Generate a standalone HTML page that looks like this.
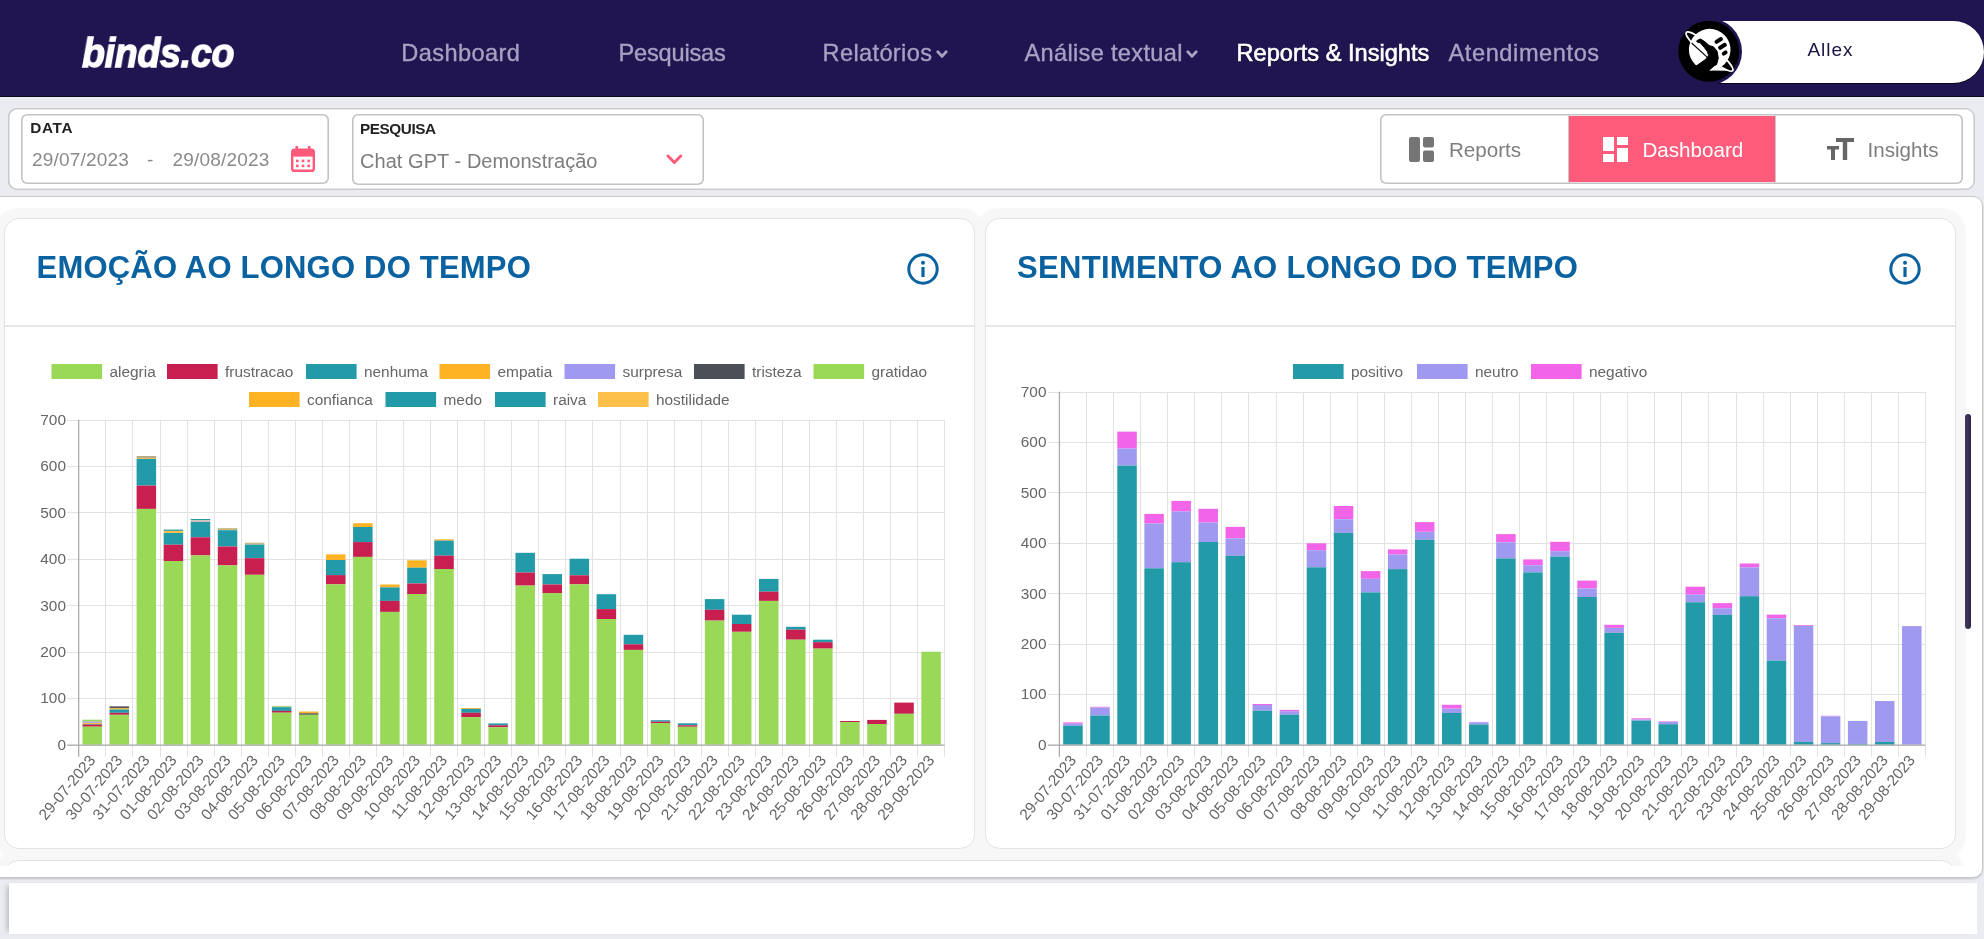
<!DOCTYPE html>
<html lang="pt-br">
<head>
<meta charset="utf-8">
<title>binds.co - Reports &amp; Insights</title>
<style>
*{box-sizing:border-box;margin:0;padding:0}
html,body{width:1984px;height:939px;overflow:hidden}
body{background:#eaecf1;font-family:"Liberation Sans",sans-serif;position:relative;color:#333}
.abs{position:absolute}
/* header */
#hdr{left:0;top:0;width:1984px;height:97px;background:#211551;border-bottom:1.5px solid #0b0820}
#logo{left:82px;top:26.5px;font-size:41px;line-height:52px;font-weight:bold;font-style:italic;color:#fff;transform-origin:0 50%;transform:scaleX(.915);white-space:nowrap;letter-spacing:-0.3px;-webkit-text-stroke:1.4px #fff;will-change:transform}
.nav{top:38px;font-size:23.6px;line-height:30px;color:#a7a1c2;white-space:nowrap}
.nav{-webkit-text-stroke:.35px #a7a1c2}
.nav.on{color:#fff;-webkit-text-stroke:.6px #fff;text-shadow:0 .8px .8px rgba(0,0,0,.8)}
#pill{left:1716px;top:21px;width:268px;height:62px;background:#fff;border-radius:0 31px 31px 0;box-shadow:0 .8px .6px #000}
#uname{left:1807.5px;top:38px;font-size:19px;line-height:24px;color:#1a1446;letter-spacing:.95px}
#av{left:1674.7px;top:17.6px;width:67.2px;height:67.2px;border-radius:50%;background:#211551}
/* filter bar */
#fbar{left:8px;top:108px;width:1967px;height:81.5px;background:#fff;border-radius:9px;box-shadow:inset 0 0 0 1.6px #cbcbce, inset 1px 0 0 0 #bdbdc0}
.box{background:#fff;border-radius:6px;box-shadow:inset 0 0 0 1.6px #c3c3c3}
.lbl{font-weight:bold;font-size:15.3px;line-height:18px;color:#222;white-space:nowrap}
.val{font-size:19px;letter-spacing:.2px;line-height:24px;color:#8a8a8a;white-space:nowrap}
.tab{top:115.5px;height:67px;font-size:20.6px;line-height:26px;color:#7e7e7e;white-space:nowrap}
/* main */
#main{left:-14px;top:195.5px;width:1997px;height:682px;background:#fff;border:1.5px solid #c9c9c9;border-radius:10px;box-shadow:0 1px 2px rgba(0,0,0,.18)}
.card{top:218px;height:631px;background:#fff;border:1px solid #e3e3e3;border-radius:14.5px}
.halo{background:#f7f7f7;border-radius:24px;box-shadow:0 0 2.5px .6px #f7f7f7}
.ttl{top:248px;font-size:31px;line-height:40px;font-weight:bold;color:#0a62a0;white-space:nowrap;letter-spacing:.2px}
.hr{top:325px;height:1.5px;background:#e7e7e7}
#bot{left:9px;top:883px;width:1968px;height:51px;background:#fff;box-shadow:-5px 0 5px -3px rgba(0,0,0,.22)}
svg text.tk{font-family:"Liberation Sans",sans-serif;font-size:15.4px;fill:#666}
svg text.lg{font-family:"Liberation Sans",sans-serif;font-size:15.4px;fill:#666}
</style>
</head>
<body>
<div id="wrap" class="abs" style="left:0;top:0;width:1984px;height:939px;will-change:transform">
<!-- HEADER -->
<div id="hdr" class="abs"></div>
<div id="logo" class="abs">binds.co</div>
<div class="nav abs" style="left:401.3px;letter-spacing:.38px">Dashboard</div>
<div class="nav abs" style="left:618.5px;letter-spacing:-.2px">Pesquisas</div>
<div class="nav abs" style="left:822.5px;letter-spacing:.36px">Relatórios</div>
<svg class="abs" style="left:936.1px;top:49.8px" width="12" height="9" viewBox="0 0 12 9"><path d="M1.8 1.8 L6 6.4 L10.2 1.8" fill="none" stroke="#a7a1c2" stroke-width="2.8" stroke-linecap="round" stroke-linejoin="round"/></svg>
<div class="nav abs" style="left:1024.5px;letter-spacing:.32px">Análise textual</div>
<svg class="abs" style="left:1185.9px;top:49.8px" width="12" height="9" viewBox="0 0 12 9"><path d="M1.8 1.8 L6 6.4 L10.2 1.8" fill="none" stroke="#a7a1c2" stroke-width="2.8" stroke-linecap="round" stroke-linejoin="round"/></svg>
<div class="nav on abs" style="left:1236.5px">Reports &amp; Insights</div>
<div class="nav abs" style="left:1448.5px;letter-spacing:.58px">Atendimentos</div>
<div id="pill" class="abs"></div>
<div id="av" class="abs"></div>
<svg class="abs" style="left:1677.5px;top:20px" width="62" height="62" viewBox="0 0 62 62">
<circle cx="30.8" cy="31.2" r="30.5" fill="#000"/>
<ellipse cx="31.5" cy="31.6" rx="30" ry="5.8" transform="rotate(39.5 31.5 31.6)" fill="none" stroke="#fff" stroke-width="1.8"/>
<circle cx="31.7" cy="29.6" r="20.8" fill="#fff"/>
<path d="M13.6 23 L30.5 38.3" stroke="#000" stroke-width="1.1" fill="none"/>
<path d="M18.9 20.6 L22.4 19 L26.6 21.5 L31.1 25.5 L35.3 26.7 L39 31 L40.3 38.1 L38.6 44.6 L33 49 L27 53.5 L17.5 46.5 L27.2 39.7 L30.6 35.8 L29.5 31.8 L26.2 27.3 L22.2 22.8 L19 22 Z" fill="#000" stroke="#000" stroke-width="1" stroke-linejoin="round"/>
<g fill="#000"><rect x="36.2" y="18.4" width="9" height="4" rx="1.8" transform="rotate(-32 40.7 20.4)"/>
<rect x="39.8" y="24.2" width="9.4" height="4.2" rx="1.9" transform="rotate(-32 44.5 26.3)"/>
<rect x="43.7" y="31" width="6" height="4" rx="1.9" transform="rotate(-32 46.7 33)"/></g>
<path d="M31.5 50.4 L37.2 45.6 L43.5 48.2 L52 50.8 Z" fill="#fff"/>
</svg>
<div id="uname" class="abs">Allex</div>

<!-- FILTER BAR -->
<div id="fbar" class="abs"></div>
<div class="box abs" style="left:21px;top:114px;width:308px;height:70px"></div>
<div class="lbl abs" style="left:30.2px;top:119px;letter-spacing:.7px">DATA</div>
<div class="val abs" style="left:32px;top:148px">29/07/2023</div>
<div class="val abs" style="left:147px;top:148px">-</div>
<div class="val abs" style="left:172.5px;top:148px">29/08/2023</div>
<svg class="abs" style="left:290.5px;top:145.5px" width="24" height="26" viewBox="0 0 24 26">
<rect x="4.5" y="0" width="2.6" height="5" fill="#ff5a7a"/><rect x="16.9" y="0" width="2.6" height="5" fill="#ff5a7a"/>
<rect x="1.2" y="3.6" width="21.6" height="21.2" rx="2.4" fill="none" stroke="#ff5a7a" stroke-width="2.4"/>
<rect x="1.2" y="3.6" width="21.6" height="7" fill="#ff5a7a"/>
<rect x="5" y="13.6" width="2.6" height="2.6" fill="#ff5a7a"/><rect x="10.7" y="13.6" width="2.6" height="2.6" fill="#ff5a7a"/><rect x="16.4" y="13.6" width="2.6" height="2.6" fill="#ff5a7a"/>
<rect x="5" y="18.6" width="2.6" height="2.6" fill="#ff5a7a"/><rect x="10.7" y="18.6" width="2.6" height="2.6" fill="#ff5a7a"/><rect x="16.4" y="18.6" width="2.6" height="2.6" fill="#ff5a7a"/>
</svg>
<div class="box abs" style="left:351.5px;top:114px;width:352.5px;height:70.5px"></div>
<div class="lbl abs" style="left:360px;top:120px;letter-spacing:-.42px">PESQUISA</div>
<div class="val abs" style="left:360px;top:149px;font-size:20px;letter-spacing:.05px;color:#7d7d7d">Chat GPT - Demonstração</div>
<svg class="abs" style="left:666.2px;top:153.9px" width="17" height="11" viewBox="0 0 17 11"><path d="M2 2 L8.35 8.5 L14.7 2" fill="none" stroke="#ff5a7a" stroke-width="2.9" stroke-linecap="round" stroke-linejoin="round"/></svg>

<!-- tabs -->
<div class="box abs" style="left:1380px;top:113.5px;width:583px;height:70.5px"></div>
<div class="abs" style="left:1568.7px;top:115.8px;width:206.3px;height:66.4px;background:#ff5c7c"></div>
<div class="abs" style="left:1567.5px;top:115px;width:1.4px;height:67.5px;background:#c8c8c8"></div>
<div class="abs" style="left:1775px;top:115px;width:1.4px;height:67.5px;background:#c8c8c8"></div>
<svg class="abs" style="left:1408.5px;top:137px" width="25" height="25" viewBox="0 0 25 25"><rect x="0" y="0" width="11" height="25" rx="2" fill="#757575"/><rect x="14" y="0" width="11" height="10.5" rx="2" fill="#757575"/><rect x="14" y="13.5" width="11" height="11.5" rx="2" fill="#757575"/></svg>
<div class="tab abs" style="left:1449px;top:136.8px">Reports</div>
<svg class="abs" style="left:1602.5px;top:137px" width="25" height="25" viewBox="0 0 25 25"><rect x="0" y="0" width="11" height="14" fill="#fff"/><rect x="0" y="17" width="11" height="8" fill="#fff"/><rect x="14" y="0" width="11" height="8" fill="#fff"/><rect x="14" y="11" width="11" height="14" fill="#fff"/></svg>
<div class="tab abs" style="left:1642.5px;top:136.8px;color:#fff">Dashboard</div>
<svg class="abs" style="left:1827px;top:138px" width="27" height="23" viewBox="0 0 27 23"><path d="M9 0 H27 V4 H20.2 V22 H15.8 V4 H9 Z" fill="#666"/><path d="M0 8 H12 V11.6 H8 V22 H4 V11.6 H0 Z" fill="#666"/></svg>
<div class="tab abs" style="left:1867.5px;top:136.8px">Insights</div>

<!-- MAIN -->
<div id="main" class="abs"></div>
<div id="scr" class="abs" style="left:0;top:198px;width:1976px;height:668.4px;overflow:hidden">
<div class="halo abs" style="left:-5.5px;top:10.5px;width:989.5px;height:650px"></div>
<div class="halo abs" style="left:975.5px;top:10.5px;width:989.5px;height:650px"></div>
<div class="halo abs" style="left:-5.5px;top:652.5px;width:1970.5px;height:219px"></div>
<div class="card abs" style="left:4px;top:20px;width:970.5px"></div>
<div class="card abs" style="left:985px;top:20px;width:970.5px"></div>
<div class="card abs" style="left:4px;top:662px;width:1951.5px;height:200px"></div>
</div>
<div class="hr abs" style="left:4.5px;width:969.5px"></div>
<div class="hr abs" style="left:985.5px;width:969.5px"></div>
<div class="ttl abs" style="left:36.5px">EMOÇÃO AO LONGO DO TEMPO</div>
<div class="ttl abs" style="left:1017px;letter-spacing:.3px">SENTIMENTO AO LONGO DO TEMPO</div>
<svg class="abs" style="left:906.3px;top:252.3px" width="34" height="34" viewBox="0 0 34 34"><circle cx="17" cy="17" r="14.2" fill="none" stroke="#0a62a0" stroke-width="3"/><rect x="15.4" y="15" width="3.2" height="10" fill="#0a62a0"/><circle cx="17" cy="10.8" r="2" fill="#0a62a0"/></svg>
<svg class="abs" style="left:1887.6px;top:252.3px" width="34" height="34" viewBox="0 0 34 34"><circle cx="17" cy="17" r="14.2" fill="none" stroke="#0a62a0" stroke-width="3"/><rect x="15.4" y="15" width="3.2" height="10" fill="#0a62a0"/><circle cx="17" cy="10.8" r="2" fill="#0a62a0"/></svg>
<!-- scrollbar thumb -->
<div class="abs" style="left:1965px;top:413.7px;width:6.2px;height:215.3px;border-radius:3.2px;background:linear-gradient(90deg,#443a5e,#3a2e55 50%,#2c214b)"></div>

<!-- charts -->
<svg class="abs" style="left:0;top:0;transform:translateZ(0)" width="1984" height="939" viewBox="0 0 1984 939">
<g id="chartL">
<line x1="67.20" y1="745.50" x2="944.62" y2="745.50" stroke="#e2e2e2" stroke-width="1.15"/>
<text x="66.00" y="749.80" text-anchor="end" class="tk">0</text>
<line x1="67.20" y1="698.50" x2="944.62" y2="698.50" stroke="#e2e2e2" stroke-width="1.15"/>
<text x="66.00" y="703.37" text-anchor="end" class="tk">100</text>
<line x1="67.20" y1="652.50" x2="944.62" y2="652.50" stroke="#e2e2e2" stroke-width="1.15"/>
<text x="66.00" y="656.94" text-anchor="end" class="tk">200</text>
<line x1="67.20" y1="605.50" x2="944.62" y2="605.50" stroke="#e2e2e2" stroke-width="1.15"/>
<text x="66.00" y="610.51" text-anchor="end" class="tk">300</text>
<line x1="67.20" y1="559.50" x2="944.62" y2="559.50" stroke="#e2e2e2" stroke-width="1.15"/>
<text x="66.00" y="564.09" text-anchor="end" class="tk">400</text>
<line x1="67.20" y1="512.50" x2="944.62" y2="512.50" stroke="#e2e2e2" stroke-width="1.15"/>
<text x="66.00" y="517.66" text-anchor="end" class="tk">500</text>
<line x1="67.20" y1="466.50" x2="944.62" y2="466.50" stroke="#e2e2e2" stroke-width="1.15"/>
<text x="66.00" y="471.23" text-anchor="end" class="tk">600</text>
<line x1="67.20" y1="420.50" x2="944.62" y2="420.50" stroke="#e2e2e2" stroke-width="1.15"/>
<text x="66.00" y="424.80" text-anchor="end" class="tk">700</text>
<line x1="78.50" y1="419.70" x2="78.50" y2="756.70" stroke="#e2e2e2" stroke-width="1.05"/>
<line x1="105.50" y1="419.70" x2="105.50" y2="756.70" stroke="#e2e2e2" stroke-width="1.05"/>
<line x1="132.50" y1="419.70" x2="132.50" y2="756.70" stroke="#e2e2e2" stroke-width="1.05"/>
<line x1="160.50" y1="419.70" x2="160.50" y2="756.70" stroke="#e2e2e2" stroke-width="1.05"/>
<line x1="187.50" y1="419.70" x2="187.50" y2="756.70" stroke="#e2e2e2" stroke-width="1.05"/>
<line x1="214.50" y1="419.70" x2="214.50" y2="756.70" stroke="#e2e2e2" stroke-width="1.05"/>
<line x1="241.50" y1="419.70" x2="241.50" y2="756.70" stroke="#e2e2e2" stroke-width="1.05"/>
<line x1="268.50" y1="419.70" x2="268.50" y2="756.70" stroke="#e2e2e2" stroke-width="1.05"/>
<line x1="295.50" y1="419.70" x2="295.50" y2="756.70" stroke="#e2e2e2" stroke-width="1.05"/>
<line x1="322.50" y1="419.70" x2="322.50" y2="756.70" stroke="#e2e2e2" stroke-width="1.05"/>
<line x1="349.50" y1="419.70" x2="349.50" y2="756.70" stroke="#e2e2e2" stroke-width="1.05"/>
<line x1="376.50" y1="419.70" x2="376.50" y2="756.70" stroke="#e2e2e2" stroke-width="1.05"/>
<line x1="403.50" y1="419.70" x2="403.50" y2="756.70" stroke="#e2e2e2" stroke-width="1.05"/>
<line x1="430.50" y1="419.70" x2="430.50" y2="756.70" stroke="#e2e2e2" stroke-width="1.05"/>
<line x1="457.50" y1="419.70" x2="457.50" y2="756.70" stroke="#e2e2e2" stroke-width="1.05"/>
<line x1="484.50" y1="419.70" x2="484.50" y2="756.70" stroke="#e2e2e2" stroke-width="1.05"/>
<line x1="511.50" y1="419.70" x2="511.50" y2="756.70" stroke="#e2e2e2" stroke-width="1.05"/>
<line x1="538.50" y1="419.70" x2="538.50" y2="756.70" stroke="#e2e2e2" stroke-width="1.05"/>
<line x1="565.50" y1="419.70" x2="565.50" y2="756.70" stroke="#e2e2e2" stroke-width="1.05"/>
<line x1="592.50" y1="419.70" x2="592.50" y2="756.70" stroke="#e2e2e2" stroke-width="1.05"/>
<line x1="620.50" y1="419.70" x2="620.50" y2="756.70" stroke="#e2e2e2" stroke-width="1.05"/>
<line x1="647.50" y1="419.70" x2="647.50" y2="756.70" stroke="#e2e2e2" stroke-width="1.05"/>
<line x1="674.50" y1="419.70" x2="674.50" y2="756.70" stroke="#e2e2e2" stroke-width="1.05"/>
<line x1="701.50" y1="419.70" x2="701.50" y2="756.70" stroke="#e2e2e2" stroke-width="1.05"/>
<line x1="728.50" y1="419.70" x2="728.50" y2="756.70" stroke="#e2e2e2" stroke-width="1.05"/>
<line x1="755.50" y1="419.70" x2="755.50" y2="756.70" stroke="#e2e2e2" stroke-width="1.05"/>
<line x1="782.50" y1="419.70" x2="782.50" y2="756.70" stroke="#e2e2e2" stroke-width="1.05"/>
<line x1="809.50" y1="419.70" x2="809.50" y2="756.70" stroke="#e2e2e2" stroke-width="1.05"/>
<line x1="836.50" y1="419.70" x2="836.50" y2="756.70" stroke="#e2e2e2" stroke-width="1.05"/>
<line x1="863.50" y1="419.70" x2="863.50" y2="756.70" stroke="#e2e2e2" stroke-width="1.05"/>
<line x1="890.50" y1="419.70" x2="890.50" y2="756.70" stroke="#e2e2e2" stroke-width="1.05"/>
<line x1="917.50" y1="419.70" x2="917.50" y2="756.70" stroke="#e2e2e2" stroke-width="1.05"/>
<line x1="944.50" y1="419.70" x2="944.50" y2="756.70" stroke="#e2e2e2" stroke-width="1.05"/>
<rect x="82.48" y="719.70" width="19.50" height="1.90" fill="#9ad858"/>
<rect x="82.48" y="721.60" width="19.50" height="1.30" fill="#a099f0"/>
<rect x="82.48" y="722.90" width="19.50" height="1.40" fill="#fdc04a"/>
<rect x="82.48" y="724.30" width="19.50" height="0.60" fill="#4b4f58"/>
<rect x="82.48" y="724.90" width="19.50" height="1.80" fill="#c81e50"/>
<rect x="82.48" y="726.70" width="19.50" height="18.00" fill="#9ad858"/>
<rect x="109.54" y="706.40" width="19.50" height="1.80" fill="#4b4f58"/>
<rect x="109.54" y="708.20" width="19.50" height="1.30" fill="#fdb324"/>
<rect x="109.54" y="709.50" width="19.50" height="3.30" fill="#229aa8"/>
<rect x="109.54" y="712.80" width="19.50" height="2.00" fill="#c81e50"/>
<rect x="109.54" y="714.80" width="19.50" height="29.90" fill="#9ad858"/>
<rect x="136.60" y="456.00" width="19.50" height="2.00" fill="#b9aa8c"/>
<rect x="136.60" y="458.00" width="19.50" height="0.90" fill="#fdc04a"/>
<rect x="136.60" y="458.90" width="19.50" height="26.70" fill="#229aa8"/>
<rect x="136.60" y="485.60" width="19.50" height="23.30" fill="#c81e50"/>
<rect x="136.60" y="508.90" width="19.50" height="235.80" fill="#9ad858"/>
<rect x="163.66" y="529.60" width="19.50" height="1.30" fill="#229aa8"/>
<rect x="163.66" y="530.90" width="19.50" height="2.10" fill="#fdc04a"/>
<rect x="163.66" y="533.00" width="19.50" height="11.70" fill="#229aa8"/>
<rect x="163.66" y="544.70" width="19.50" height="16.30" fill="#c81e50"/>
<rect x="163.66" y="561.00" width="19.50" height="183.70" fill="#9ad858"/>
<rect x="190.72" y="519.00" width="19.50" height="1.20" fill="#229aa8"/>
<rect x="190.72" y="520.20" width="19.50" height="1.70" fill="#d9bab2"/>
<rect x="190.72" y="521.90" width="19.50" height="15.40" fill="#229aa8"/>
<rect x="190.72" y="537.30" width="19.50" height="18.10" fill="#c81e50"/>
<rect x="190.72" y="555.40" width="19.50" height="189.30" fill="#9ad858"/>
<rect x="217.78" y="528.10" width="19.50" height="2.10" fill="#c8ba80"/>
<rect x="217.78" y="530.20" width="19.50" height="16.30" fill="#229aa8"/>
<rect x="217.78" y="546.50" width="19.50" height="18.90" fill="#c81e50"/>
<rect x="217.78" y="565.40" width="19.50" height="179.30" fill="#9ad858"/>
<rect x="244.84" y="542.70" width="19.50" height="1.90" fill="#c8ba80"/>
<rect x="244.84" y="544.60" width="19.50" height="13.60" fill="#229aa8"/>
<rect x="244.84" y="558.20" width="19.50" height="16.60" fill="#c81e50"/>
<rect x="244.84" y="574.80" width="19.50" height="169.90" fill="#9ad858"/>
<rect x="271.90" y="705.90" width="19.50" height="1.30" fill="#b9cf7c"/>
<rect x="271.90" y="707.20" width="19.50" height="3.70" fill="#229aa8"/>
<rect x="271.90" y="710.90" width="19.50" height="1.80" fill="#c81e50"/>
<rect x="271.90" y="712.70" width="19.50" height="32.00" fill="#9ad858"/>
<rect x="298.96" y="711.50" width="19.50" height="1.80" fill="#fdb324"/>
<rect x="298.96" y="713.30" width="19.50" height="1.50" fill="#4b4f58"/>
<rect x="298.96" y="714.80" width="19.50" height="29.90" fill="#9ad858"/>
<rect x="326.02" y="554.40" width="19.50" height="5.60" fill="#fdb324"/>
<rect x="326.02" y="560.00" width="19.50" height="15.10" fill="#229aa8"/>
<rect x="326.02" y="575.10" width="19.50" height="9.20" fill="#c81e50"/>
<rect x="326.02" y="584.30" width="19.50" height="160.40" fill="#9ad858"/>
<rect x="353.08" y="523.20" width="19.50" height="3.80" fill="#fdb324"/>
<rect x="353.08" y="527.00" width="19.50" height="15.10" fill="#229aa8"/>
<rect x="353.08" y="542.10" width="19.50" height="14.80" fill="#c81e50"/>
<rect x="353.08" y="556.90" width="19.50" height="187.80" fill="#9ad858"/>
<rect x="380.14" y="584.50" width="19.50" height="2.90" fill="#fdb324"/>
<rect x="380.14" y="587.40" width="19.50" height="13.50" fill="#229aa8"/>
<rect x="380.14" y="600.90" width="19.50" height="11.00" fill="#c81e50"/>
<rect x="380.14" y="611.90" width="19.50" height="132.80" fill="#9ad858"/>
<rect x="407.20" y="560.30" width="19.50" height="7.40" fill="#fdb324"/>
<rect x="407.20" y="567.70" width="19.50" height="15.80" fill="#229aa8"/>
<rect x="407.20" y="583.50" width="19.50" height="10.50" fill="#c81e50"/>
<rect x="407.20" y="594.00" width="19.50" height="150.70" fill="#9ad858"/>
<rect x="434.26" y="539.30" width="19.50" height="1.30" fill="#fdb324"/>
<rect x="434.26" y="540.60" width="19.50" height="15.10" fill="#229aa8"/>
<rect x="434.26" y="555.70" width="19.50" height="13.30" fill="#c81e50"/>
<rect x="434.26" y="569.00" width="19.50" height="175.70" fill="#9ad858"/>
<rect x="461.32" y="708.00" width="19.50" height="0.90" fill="#fdb324"/>
<rect x="461.32" y="708.90" width="19.50" height="3.90" fill="#229aa8"/>
<rect x="461.32" y="712.80" width="19.50" height="4.30" fill="#c81e50"/>
<rect x="461.32" y="717.10" width="19.50" height="27.60" fill="#9ad858"/>
<rect x="488.38" y="723.40" width="19.50" height="1.90" fill="#229aa8"/>
<rect x="488.38" y="725.30" width="19.50" height="1.90" fill="#c81e50"/>
<rect x="488.38" y="727.20" width="19.50" height="17.50" fill="#9ad858"/>
<rect x="515.44" y="552.80" width="19.50" height="19.70" fill="#229aa8"/>
<rect x="515.44" y="572.50" width="19.50" height="13.10" fill="#c81e50"/>
<rect x="515.44" y="585.60" width="19.50" height="159.10" fill="#9ad858"/>
<rect x="542.50" y="574.10" width="19.50" height="10.40" fill="#229aa8"/>
<rect x="542.50" y="584.50" width="19.50" height="8.50" fill="#c81e50"/>
<rect x="542.50" y="593.00" width="19.50" height="151.70" fill="#9ad858"/>
<rect x="569.56" y="558.70" width="19.50" height="16.60" fill="#229aa8"/>
<rect x="569.56" y="575.30" width="19.50" height="9.00" fill="#c81e50"/>
<rect x="569.56" y="584.30" width="19.50" height="160.40" fill="#9ad858"/>
<rect x="596.62" y="594.20" width="19.50" height="14.90" fill="#229aa8"/>
<rect x="596.62" y="609.10" width="19.50" height="9.90" fill="#c81e50"/>
<rect x="596.62" y="619.00" width="19.50" height="125.70" fill="#9ad858"/>
<rect x="623.68" y="634.80" width="19.50" height="9.50" fill="#229aa8"/>
<rect x="623.68" y="644.30" width="19.50" height="5.60" fill="#c81e50"/>
<rect x="623.68" y="649.90" width="19.50" height="94.80" fill="#9ad858"/>
<rect x="650.74" y="720.20" width="19.50" height="1.50" fill="#229aa8"/>
<rect x="650.74" y="721.70" width="19.50" height="1.30" fill="#c81e50"/>
<rect x="650.74" y="723.00" width="19.50" height="21.70" fill="#9ad858"/>
<rect x="677.80" y="723.30" width="19.50" height="2.00" fill="#229aa8"/>
<rect x="677.80" y="725.30" width="19.50" height="1.50" fill="#c81e50"/>
<rect x="677.80" y="726.80" width="19.50" height="17.90" fill="#9ad858"/>
<rect x="704.86" y="599.10" width="19.50" height="10.70" fill="#229aa8"/>
<rect x="704.86" y="609.80" width="19.50" height="10.80" fill="#c81e50"/>
<rect x="704.86" y="620.60" width="19.50" height="124.10" fill="#9ad858"/>
<rect x="731.92" y="614.70" width="19.50" height="9.30" fill="#229aa8"/>
<rect x="731.92" y="624.00" width="19.50" height="7.80" fill="#c81e50"/>
<rect x="731.92" y="631.80" width="19.50" height="112.90" fill="#9ad858"/>
<rect x="758.98" y="578.90" width="19.50" height="12.80" fill="#229aa8"/>
<rect x="758.98" y="591.70" width="19.50" height="9.20" fill="#c81e50"/>
<rect x="758.98" y="600.90" width="19.50" height="143.80" fill="#9ad858"/>
<rect x="786.04" y="626.80" width="19.50" height="2.90" fill="#229aa8"/>
<rect x="786.04" y="629.70" width="19.50" height="10.00" fill="#c81e50"/>
<rect x="786.04" y="639.70" width="19.50" height="105.00" fill="#9ad858"/>
<rect x="813.10" y="639.70" width="19.50" height="2.50" fill="#229aa8"/>
<rect x="813.10" y="642.20" width="19.50" height="6.40" fill="#c81e50"/>
<rect x="813.10" y="648.60" width="19.50" height="96.10" fill="#9ad858"/>
<rect x="840.16" y="721.00" width="19.50" height="1.00" fill="#c81e50"/>
<rect x="840.16" y="722.00" width="19.50" height="22.70" fill="#9ad858"/>
<rect x="867.22" y="719.90" width="19.50" height="4.10" fill="#c81e50"/>
<rect x="867.22" y="724.00" width="19.50" height="20.70" fill="#9ad858"/>
<rect x="894.28" y="702.60" width="19.50" height="11.20" fill="#c81e50"/>
<rect x="894.28" y="713.80" width="19.50" height="30.90" fill="#9ad858"/>
<rect x="921.34" y="651.70" width="19.50" height="93.00" fill="#9ad858"/>
<line x1="78.70" y1="419.70" x2="78.70" y2="756.70" stroke="#ababab" stroke-width="1.25"/>
<line x1="67.20" y1="745.05" x2="944.62" y2="745.05" stroke="#ababab" stroke-width="1.2"/>
<text transform="translate(92.23,757.20) rotate(-50)" x="0" y="5.3" text-anchor="end" class="tk">29-07-2023</text>
<text transform="translate(119.29,757.20) rotate(-50)" x="0" y="5.3" text-anchor="end" class="tk">30-07-2023</text>
<text transform="translate(146.35,757.20) rotate(-50)" x="0" y="5.3" text-anchor="end" class="tk">31-07-2023</text>
<text transform="translate(173.41,757.20) rotate(-50)" x="0" y="5.3" text-anchor="end" class="tk">01-08-2023</text>
<text transform="translate(200.47,757.20) rotate(-50)" x="0" y="5.3" text-anchor="end" class="tk">02-08-2023</text>
<text transform="translate(227.53,757.20) rotate(-50)" x="0" y="5.3" text-anchor="end" class="tk">03-08-2023</text>
<text transform="translate(254.59,757.20) rotate(-50)" x="0" y="5.3" text-anchor="end" class="tk">04-08-2023</text>
<text transform="translate(281.65,757.20) rotate(-50)" x="0" y="5.3" text-anchor="end" class="tk">05-08-2023</text>
<text transform="translate(308.71,757.20) rotate(-50)" x="0" y="5.3" text-anchor="end" class="tk">06-08-2023</text>
<text transform="translate(335.77,757.20) rotate(-50)" x="0" y="5.3" text-anchor="end" class="tk">07-08-2023</text>
<text transform="translate(362.83,757.20) rotate(-50)" x="0" y="5.3" text-anchor="end" class="tk">08-08-2023</text>
<text transform="translate(389.89,757.20) rotate(-50)" x="0" y="5.3" text-anchor="end" class="tk">09-08-2023</text>
<text transform="translate(416.95,757.20) rotate(-50)" x="0" y="5.3" text-anchor="end" class="tk">10-08-2023</text>
<text transform="translate(444.01,757.20) rotate(-50)" x="0" y="5.3" text-anchor="end" class="tk">11-08-2023</text>
<text transform="translate(471.07,757.20) rotate(-50)" x="0" y="5.3" text-anchor="end" class="tk">12-08-2023</text>
<text transform="translate(498.13,757.20) rotate(-50)" x="0" y="5.3" text-anchor="end" class="tk">13-08-2023</text>
<text transform="translate(525.19,757.20) rotate(-50)" x="0" y="5.3" text-anchor="end" class="tk">14-08-2023</text>
<text transform="translate(552.25,757.20) rotate(-50)" x="0" y="5.3" text-anchor="end" class="tk">15-08-2023</text>
<text transform="translate(579.31,757.20) rotate(-50)" x="0" y="5.3" text-anchor="end" class="tk">16-08-2023</text>
<text transform="translate(606.37,757.20) rotate(-50)" x="0" y="5.3" text-anchor="end" class="tk">17-08-2023</text>
<text transform="translate(633.43,757.20) rotate(-50)" x="0" y="5.3" text-anchor="end" class="tk">18-08-2023</text>
<text transform="translate(660.49,757.20) rotate(-50)" x="0" y="5.3" text-anchor="end" class="tk">19-08-2023</text>
<text transform="translate(687.55,757.20) rotate(-50)" x="0" y="5.3" text-anchor="end" class="tk">20-08-2023</text>
<text transform="translate(714.61,757.20) rotate(-50)" x="0" y="5.3" text-anchor="end" class="tk">21-08-2023</text>
<text transform="translate(741.67,757.20) rotate(-50)" x="0" y="5.3" text-anchor="end" class="tk">22-08-2023</text>
<text transform="translate(768.73,757.20) rotate(-50)" x="0" y="5.3" text-anchor="end" class="tk">23-08-2023</text>
<text transform="translate(795.79,757.20) rotate(-50)" x="0" y="5.3" text-anchor="end" class="tk">24-08-2023</text>
<text transform="translate(822.85,757.20) rotate(-50)" x="0" y="5.3" text-anchor="end" class="tk">25-08-2023</text>
<text transform="translate(849.91,757.20) rotate(-50)" x="0" y="5.3" text-anchor="end" class="tk">26-08-2023</text>
<text transform="translate(876.97,757.20) rotate(-50)" x="0" y="5.3" text-anchor="end" class="tk">27-08-2023</text>
<text transform="translate(904.03,757.20) rotate(-50)" x="0" y="5.3" text-anchor="end" class="tk">28-08-2023</text>
<text transform="translate(931.09,757.20) rotate(-50)" x="0" y="5.3" text-anchor="end" class="tk">29-08-2023</text>
<rect x="51.50" y="364.00" width="50.6" height="15" fill="#9ad858"/>
<text x="109.50" y="376.80" class="lg">alegria</text>
<rect x="167.00" y="364.00" width="50.6" height="15" fill="#c81e50"/>
<text x="225.00" y="376.80" class="lg">frustracao</text>
<rect x="306.00" y="364.00" width="50.6" height="15" fill="#229aa8"/>
<text x="364.00" y="376.80" class="lg">nenhuma</text>
<rect x="439.50" y="364.00" width="50.6" height="15" fill="#fdb324"/>
<text x="497.50" y="376.80" class="lg">empatia</text>
<rect x="564.50" y="364.00" width="50.6" height="15" fill="#a099f0"/>
<text x="622.50" y="376.80" class="lg">surpresa</text>
<rect x="694.00" y="364.00" width="50.6" height="15" fill="#4b4f58"/>
<text x="752.00" y="376.80" class="lg">tristeza</text>
<rect x="813.50" y="364.00" width="50.6" height="15" fill="#9ad858"/>
<text x="871.50" y="376.80" class="lg">gratidao</text>
<rect x="249.00" y="392.00" width="50.6" height="15" fill="#fdb324"/>
<text x="307.00" y="404.80" class="lg">confianca</text>
<rect x="385.50" y="392.00" width="50.6" height="15" fill="#229aa8"/>
<text x="443.50" y="404.80" class="lg">medo</text>
<rect x="495.00" y="392.00" width="50.6" height="15" fill="#229aa8"/>
<text x="553.00" y="404.80" class="lg">raiva</text>
<rect x="598.00" y="392.00" width="50.6" height="15" fill="#fdc04a"/>
<text x="656.00" y="404.80" class="lg">hostilidade</text>
</g>
<g id="chartR">
<line x1="1047.90" y1="745.50" x2="1925.32" y2="745.50" stroke="#e2e2e2" stroke-width="1.15"/>
<text x="1046.50" y="749.80" text-anchor="end" class="tk">0</text>
<line x1="1047.90" y1="694.50" x2="1925.32" y2="694.50" stroke="#e2e2e2" stroke-width="1.15"/>
<text x="1046.50" y="699.37" text-anchor="end" class="tk">100</text>
<line x1="1047.90" y1="644.50" x2="1925.32" y2="644.50" stroke="#e2e2e2" stroke-width="1.15"/>
<text x="1046.50" y="648.94" text-anchor="end" class="tk">200</text>
<line x1="1047.90" y1="593.50" x2="1925.32" y2="593.50" stroke="#e2e2e2" stroke-width="1.15"/>
<text x="1046.50" y="598.51" text-anchor="end" class="tk">300</text>
<line x1="1047.90" y1="543.50" x2="1925.32" y2="543.50" stroke="#e2e2e2" stroke-width="1.15"/>
<text x="1046.50" y="548.09" text-anchor="end" class="tk">400</text>
<line x1="1047.90" y1="492.50" x2="1925.32" y2="492.50" stroke="#e2e2e2" stroke-width="1.15"/>
<text x="1046.50" y="497.66" text-anchor="end" class="tk">500</text>
<line x1="1047.90" y1="442.50" x2="1925.32" y2="442.50" stroke="#e2e2e2" stroke-width="1.15"/>
<text x="1046.50" y="447.23" text-anchor="end" class="tk">600</text>
<line x1="1047.90" y1="392.50" x2="1925.32" y2="392.50" stroke="#e2e2e2" stroke-width="1.15"/>
<text x="1046.50" y="396.80" text-anchor="end" class="tk">700</text>
<line x1="1059.50" y1="391.70" x2="1059.50" y2="756.70" stroke="#e2e2e2" stroke-width="1.05"/>
<line x1="1086.50" y1="391.70" x2="1086.50" y2="756.70" stroke="#e2e2e2" stroke-width="1.05"/>
<line x1="1113.50" y1="391.70" x2="1113.50" y2="756.70" stroke="#e2e2e2" stroke-width="1.05"/>
<line x1="1140.50" y1="391.70" x2="1140.50" y2="756.70" stroke="#e2e2e2" stroke-width="1.05"/>
<line x1="1167.50" y1="391.70" x2="1167.50" y2="756.70" stroke="#e2e2e2" stroke-width="1.05"/>
<line x1="1194.50" y1="391.70" x2="1194.50" y2="756.70" stroke="#e2e2e2" stroke-width="1.05"/>
<line x1="1221.50" y1="391.70" x2="1221.50" y2="756.70" stroke="#e2e2e2" stroke-width="1.05"/>
<line x1="1248.50" y1="391.70" x2="1248.50" y2="756.70" stroke="#e2e2e2" stroke-width="1.05"/>
<line x1="1276.50" y1="391.70" x2="1276.50" y2="756.70" stroke="#e2e2e2" stroke-width="1.05"/>
<line x1="1303.50" y1="391.70" x2="1303.50" y2="756.70" stroke="#e2e2e2" stroke-width="1.05"/>
<line x1="1330.50" y1="391.70" x2="1330.50" y2="756.70" stroke="#e2e2e2" stroke-width="1.05"/>
<line x1="1357.50" y1="391.70" x2="1357.50" y2="756.70" stroke="#e2e2e2" stroke-width="1.05"/>
<line x1="1384.50" y1="391.70" x2="1384.50" y2="756.70" stroke="#e2e2e2" stroke-width="1.05"/>
<line x1="1411.50" y1="391.70" x2="1411.50" y2="756.70" stroke="#e2e2e2" stroke-width="1.05"/>
<line x1="1438.50" y1="391.70" x2="1438.50" y2="756.70" stroke="#e2e2e2" stroke-width="1.05"/>
<line x1="1465.50" y1="391.70" x2="1465.50" y2="756.70" stroke="#e2e2e2" stroke-width="1.05"/>
<line x1="1492.50" y1="391.70" x2="1492.50" y2="756.70" stroke="#e2e2e2" stroke-width="1.05"/>
<line x1="1519.50" y1="391.70" x2="1519.50" y2="756.70" stroke="#e2e2e2" stroke-width="1.05"/>
<line x1="1546.50" y1="391.70" x2="1546.50" y2="756.70" stroke="#e2e2e2" stroke-width="1.05"/>
<line x1="1573.50" y1="391.70" x2="1573.50" y2="756.70" stroke="#e2e2e2" stroke-width="1.05"/>
<line x1="1600.50" y1="391.70" x2="1600.50" y2="756.70" stroke="#e2e2e2" stroke-width="1.05"/>
<line x1="1627.50" y1="391.70" x2="1627.50" y2="756.70" stroke="#e2e2e2" stroke-width="1.05"/>
<line x1="1654.50" y1="391.70" x2="1654.50" y2="756.70" stroke="#e2e2e2" stroke-width="1.05"/>
<line x1="1681.50" y1="391.70" x2="1681.50" y2="756.70" stroke="#e2e2e2" stroke-width="1.05"/>
<line x1="1708.50" y1="391.70" x2="1708.50" y2="756.70" stroke="#e2e2e2" stroke-width="1.05"/>
<line x1="1736.50" y1="391.70" x2="1736.50" y2="756.70" stroke="#e2e2e2" stroke-width="1.05"/>
<line x1="1763.50" y1="391.70" x2="1763.50" y2="756.70" stroke="#e2e2e2" stroke-width="1.05"/>
<line x1="1790.50" y1="391.70" x2="1790.50" y2="756.70" stroke="#e2e2e2" stroke-width="1.05"/>
<line x1="1817.50" y1="391.70" x2="1817.50" y2="756.70" stroke="#e2e2e2" stroke-width="1.05"/>
<line x1="1844.50" y1="391.70" x2="1844.50" y2="756.70" stroke="#e2e2e2" stroke-width="1.05"/>
<line x1="1871.50" y1="391.70" x2="1871.50" y2="756.70" stroke="#e2e2e2" stroke-width="1.05"/>
<line x1="1898.50" y1="391.70" x2="1898.50" y2="756.70" stroke="#e2e2e2" stroke-width="1.05"/>
<line x1="1925.50" y1="391.70" x2="1925.50" y2="756.70" stroke="#e2e2e2" stroke-width="1.05"/>
<rect x="1063.18" y="722.40" width="19.50" height="1.30" fill="#f264e8"/>
<rect x="1063.18" y="723.70" width="19.50" height="2.10" fill="#a099f0"/>
<rect x="1063.18" y="725.80" width="19.50" height="18.90" fill="#229aa8"/>
<rect x="1090.24" y="706.80" width="19.50" height="0.80" fill="#f264e8"/>
<rect x="1090.24" y="707.60" width="19.50" height="7.90" fill="#a099f0"/>
<rect x="1090.24" y="715.50" width="19.50" height="29.20" fill="#229aa8"/>
<rect x="1117.30" y="431.60" width="19.50" height="16.90" fill="#f264e8"/>
<rect x="1117.30" y="448.50" width="19.50" height="17.10" fill="#a099f0"/>
<rect x="1117.30" y="465.60" width="19.50" height="279.10" fill="#229aa8"/>
<rect x="1144.36" y="513.90" width="19.50" height="9.70" fill="#f264e8"/>
<rect x="1144.36" y="523.60" width="19.50" height="44.70" fill="#a099f0"/>
<rect x="1144.36" y="568.30" width="19.50" height="176.40" fill="#229aa8"/>
<rect x="1171.42" y="500.90" width="19.50" height="10.70" fill="#f264e8"/>
<rect x="1171.42" y="511.60" width="19.50" height="50.60" fill="#a099f0"/>
<rect x="1171.42" y="562.20" width="19.50" height="182.50" fill="#229aa8"/>
<rect x="1198.48" y="508.80" width="19.50" height="13.80" fill="#f264e8"/>
<rect x="1198.48" y="522.60" width="19.50" height="19.40" fill="#a099f0"/>
<rect x="1198.48" y="542.00" width="19.50" height="202.70" fill="#229aa8"/>
<rect x="1225.54" y="526.90" width="19.50" height="11.50" fill="#f264e8"/>
<rect x="1225.54" y="538.40" width="19.50" height="17.40" fill="#a099f0"/>
<rect x="1225.54" y="555.80" width="19.50" height="188.90" fill="#229aa8"/>
<rect x="1252.60" y="704.00" width="19.50" height="1.00" fill="#f264e8"/>
<rect x="1252.60" y="705.00" width="19.50" height="5.70" fill="#a099f0"/>
<rect x="1252.60" y="710.70" width="19.50" height="34.00" fill="#229aa8"/>
<rect x="1279.66" y="709.90" width="19.50" height="1.30" fill="#f264e8"/>
<rect x="1279.66" y="711.20" width="19.50" height="3.60" fill="#a099f0"/>
<rect x="1279.66" y="714.80" width="19.50" height="29.90" fill="#229aa8"/>
<rect x="1306.72" y="543.30" width="19.50" height="6.90" fill="#f264e8"/>
<rect x="1306.72" y="550.20" width="19.50" height="17.10" fill="#a099f0"/>
<rect x="1306.72" y="567.30" width="19.50" height="177.40" fill="#229aa8"/>
<rect x="1333.78" y="506.00" width="19.50" height="13.30" fill="#f264e8"/>
<rect x="1333.78" y="519.30" width="19.50" height="13.50" fill="#a099f0"/>
<rect x="1333.78" y="532.80" width="19.50" height="211.90" fill="#229aa8"/>
<rect x="1360.84" y="571.10" width="19.50" height="7.70" fill="#f264e8"/>
<rect x="1360.84" y="578.80" width="19.50" height="13.60" fill="#a099f0"/>
<rect x="1360.84" y="592.40" width="19.50" height="152.30" fill="#229aa8"/>
<rect x="1387.90" y="549.40" width="19.50" height="5.10" fill="#f264e8"/>
<rect x="1387.90" y="554.50" width="19.50" height="14.60" fill="#a099f0"/>
<rect x="1387.90" y="569.10" width="19.50" height="175.60" fill="#229aa8"/>
<rect x="1414.96" y="522.10" width="19.50" height="9.70" fill="#f264e8"/>
<rect x="1414.96" y="531.80" width="19.50" height="7.90" fill="#a099f0"/>
<rect x="1414.96" y="539.70" width="19.50" height="205.00" fill="#229aa8"/>
<rect x="1442.02" y="704.80" width="19.50" height="3.80" fill="#f264e8"/>
<rect x="1442.02" y="708.60" width="19.50" height="4.40" fill="#a099f0"/>
<rect x="1442.02" y="713.00" width="19.50" height="31.70" fill="#229aa8"/>
<rect x="1469.08" y="721.90" width="19.50" height="0.50" fill="#f264e8"/>
<rect x="1469.08" y="722.40" width="19.50" height="2.10" fill="#a099f0"/>
<rect x="1469.08" y="724.50" width="19.50" height="20.20" fill="#229aa8"/>
<rect x="1496.14" y="534.10" width="19.50" height="8.20" fill="#f264e8"/>
<rect x="1496.14" y="542.30" width="19.50" height="16.10" fill="#a099f0"/>
<rect x="1496.14" y="558.40" width="19.50" height="186.30" fill="#229aa8"/>
<rect x="1523.20" y="559.40" width="19.50" height="5.90" fill="#f264e8"/>
<rect x="1523.20" y="565.30" width="19.50" height="7.10" fill="#a099f0"/>
<rect x="1523.20" y="572.40" width="19.50" height="172.30" fill="#229aa8"/>
<rect x="1550.26" y="541.80" width="19.50" height="9.40" fill="#f264e8"/>
<rect x="1550.26" y="551.20" width="19.50" height="5.40" fill="#a099f0"/>
<rect x="1550.26" y="556.60" width="19.50" height="188.10" fill="#229aa8"/>
<rect x="1577.32" y="580.60" width="19.50" height="7.90" fill="#f264e8"/>
<rect x="1577.32" y="588.50" width="19.50" height="8.50" fill="#a099f0"/>
<rect x="1577.32" y="597.00" width="19.50" height="147.70" fill="#229aa8"/>
<rect x="1604.38" y="624.80" width="19.50" height="3.10" fill="#f264e8"/>
<rect x="1604.38" y="627.90" width="19.50" height="4.80" fill="#a099f0"/>
<rect x="1604.38" y="632.70" width="19.50" height="112.00" fill="#229aa8"/>
<rect x="1631.44" y="718.30" width="19.50" height="1.30" fill="#f264e8"/>
<rect x="1631.44" y="719.60" width="19.50" height="1.00" fill="#a099f0"/>
<rect x="1631.44" y="720.60" width="19.50" height="24.10" fill="#229aa8"/>
<rect x="1658.50" y="721.40" width="19.50" height="0.50" fill="#f264e8"/>
<rect x="1658.50" y="721.90" width="19.50" height="2.30" fill="#a099f0"/>
<rect x="1658.50" y="724.20" width="19.50" height="20.50" fill="#229aa8"/>
<rect x="1685.56" y="586.70" width="19.50" height="8.00" fill="#f264e8"/>
<rect x="1685.56" y="594.70" width="19.50" height="7.60" fill="#a099f0"/>
<rect x="1685.56" y="602.30" width="19.50" height="142.40" fill="#229aa8"/>
<rect x="1712.62" y="603.10" width="19.50" height="5.10" fill="#f264e8"/>
<rect x="1712.62" y="608.20" width="19.50" height="6.60" fill="#a099f0"/>
<rect x="1712.62" y="614.80" width="19.50" height="129.90" fill="#229aa8"/>
<rect x="1739.68" y="563.50" width="19.50" height="3.80" fill="#f264e8"/>
<rect x="1739.68" y="567.30" width="19.50" height="28.90" fill="#a099f0"/>
<rect x="1739.68" y="596.20" width="19.50" height="148.50" fill="#229aa8"/>
<rect x="1766.74" y="614.60" width="19.50" height="3.80" fill="#f264e8"/>
<rect x="1766.74" y="618.40" width="19.50" height="42.20" fill="#a099f0"/>
<rect x="1766.74" y="660.60" width="19.50" height="84.10" fill="#229aa8"/>
<rect x="1793.80" y="625.00" width="19.50" height="0.80" fill="#f264e8"/>
<rect x="1793.80" y="625.80" width="19.50" height="116.10" fill="#a099f0"/>
<rect x="1793.80" y="741.90" width="19.50" height="2.80" fill="#229aa8"/>
<rect x="1820.86" y="715.80" width="19.50" height="0.50" fill="#f264e8"/>
<rect x="1820.86" y="716.30" width="19.50" height="26.80" fill="#a099f0"/>
<rect x="1820.86" y="743.10" width="19.50" height="1.60" fill="#229aa8"/>
<rect x="1847.92" y="720.90" width="19.50" height="23.00" fill="#a099f0"/>
<rect x="1847.92" y="743.90" width="19.50" height="0.80" fill="#229aa8"/>
<rect x="1874.98" y="701.00" width="19.50" height="40.90" fill="#a099f0"/>
<rect x="1874.98" y="741.90" width="19.50" height="2.80" fill="#229aa8"/>
<rect x="1902.04" y="626.10" width="19.50" height="118.60" fill="#a099f0"/>
<line x1="1059.40" y1="391.70" x2="1059.40" y2="756.70" stroke="#ababab" stroke-width="1.25"/>
<line x1="1047.90" y1="745.05" x2="1925.32" y2="745.05" stroke="#ababab" stroke-width="1.2"/>
<text transform="translate(1072.93,757.20) rotate(-50)" x="0" y="5.3" text-anchor="end" class="tk">29-07-2023</text>
<text transform="translate(1099.99,757.20) rotate(-50)" x="0" y="5.3" text-anchor="end" class="tk">30-07-2023</text>
<text transform="translate(1127.05,757.20) rotate(-50)" x="0" y="5.3" text-anchor="end" class="tk">31-07-2023</text>
<text transform="translate(1154.11,757.20) rotate(-50)" x="0" y="5.3" text-anchor="end" class="tk">01-08-2023</text>
<text transform="translate(1181.17,757.20) rotate(-50)" x="0" y="5.3" text-anchor="end" class="tk">02-08-2023</text>
<text transform="translate(1208.23,757.20) rotate(-50)" x="0" y="5.3" text-anchor="end" class="tk">03-08-2023</text>
<text transform="translate(1235.29,757.20) rotate(-50)" x="0" y="5.3" text-anchor="end" class="tk">04-08-2023</text>
<text transform="translate(1262.35,757.20) rotate(-50)" x="0" y="5.3" text-anchor="end" class="tk">05-08-2023</text>
<text transform="translate(1289.41,757.20) rotate(-50)" x="0" y="5.3" text-anchor="end" class="tk">06-08-2023</text>
<text transform="translate(1316.47,757.20) rotate(-50)" x="0" y="5.3" text-anchor="end" class="tk">07-08-2023</text>
<text transform="translate(1343.53,757.20) rotate(-50)" x="0" y="5.3" text-anchor="end" class="tk">08-08-2023</text>
<text transform="translate(1370.59,757.20) rotate(-50)" x="0" y="5.3" text-anchor="end" class="tk">09-08-2023</text>
<text transform="translate(1397.65,757.20) rotate(-50)" x="0" y="5.3" text-anchor="end" class="tk">10-08-2023</text>
<text transform="translate(1424.71,757.20) rotate(-50)" x="0" y="5.3" text-anchor="end" class="tk">11-08-2023</text>
<text transform="translate(1451.77,757.20) rotate(-50)" x="0" y="5.3" text-anchor="end" class="tk">12-08-2023</text>
<text transform="translate(1478.83,757.20) rotate(-50)" x="0" y="5.3" text-anchor="end" class="tk">13-08-2023</text>
<text transform="translate(1505.89,757.20) rotate(-50)" x="0" y="5.3" text-anchor="end" class="tk">14-08-2023</text>
<text transform="translate(1532.95,757.20) rotate(-50)" x="0" y="5.3" text-anchor="end" class="tk">15-08-2023</text>
<text transform="translate(1560.01,757.20) rotate(-50)" x="0" y="5.3" text-anchor="end" class="tk">16-08-2023</text>
<text transform="translate(1587.07,757.20) rotate(-50)" x="0" y="5.3" text-anchor="end" class="tk">17-08-2023</text>
<text transform="translate(1614.13,757.20) rotate(-50)" x="0" y="5.3" text-anchor="end" class="tk">18-08-2023</text>
<text transform="translate(1641.19,757.20) rotate(-50)" x="0" y="5.3" text-anchor="end" class="tk">19-08-2023</text>
<text transform="translate(1668.25,757.20) rotate(-50)" x="0" y="5.3" text-anchor="end" class="tk">20-08-2023</text>
<text transform="translate(1695.31,757.20) rotate(-50)" x="0" y="5.3" text-anchor="end" class="tk">21-08-2023</text>
<text transform="translate(1722.37,757.20) rotate(-50)" x="0" y="5.3" text-anchor="end" class="tk">22-08-2023</text>
<text transform="translate(1749.43,757.20) rotate(-50)" x="0" y="5.3" text-anchor="end" class="tk">23-08-2023</text>
<text transform="translate(1776.49,757.20) rotate(-50)" x="0" y="5.3" text-anchor="end" class="tk">24-08-2023</text>
<text transform="translate(1803.55,757.20) rotate(-50)" x="0" y="5.3" text-anchor="end" class="tk">25-08-2023</text>
<text transform="translate(1830.61,757.20) rotate(-50)" x="0" y="5.3" text-anchor="end" class="tk">26-08-2023</text>
<text transform="translate(1857.67,757.20) rotate(-50)" x="0" y="5.3" text-anchor="end" class="tk">27-08-2023</text>
<text transform="translate(1884.73,757.20) rotate(-50)" x="0" y="5.3" text-anchor="end" class="tk">28-08-2023</text>
<text transform="translate(1911.79,757.20) rotate(-50)" x="0" y="5.3" text-anchor="end" class="tk">29-08-2023</text>
<rect x="1293.00" y="364.00" width="50.6" height="15" fill="#229aa8"/>
<text x="1351.00" y="376.80" class="lg">positivo</text>
<rect x="1417.00" y="364.00" width="50.6" height="15" fill="#a099f0"/>
<text x="1475.00" y="376.80" class="lg">neutro</text>
<rect x="1531.00" y="364.00" width="50.6" height="15" fill="#f264e8"/>
<text x="1589.00" y="376.80" class="lg">negativo</text>
</g>
</svg>

<div id="bot" class="abs"></div>
</div>
</body>
</html>
